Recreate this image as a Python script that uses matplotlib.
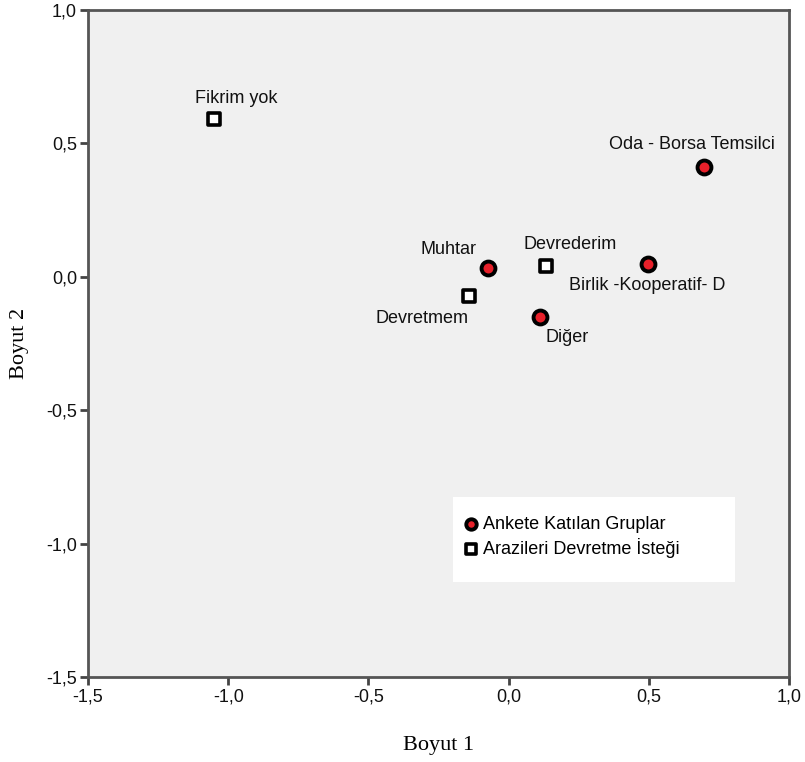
import matplotlib
matplotlib.use("Agg")
import matplotlib.pyplot as plt
from matplotlib.patches import Rectangle
from matplotlib.ticker import FuncFormatter

plt.rcParams["font.family"] = ["Liberation Sans", "DejaVu Sans"]

# Ankete Katılan Gruplar (daireler)
grup_adlari = ["Oda - Borsa Temsilci", "Muhtar", "Birlik -Kooperatif- D", "Diğer"]
grup_x = [0.697, -0.074, 0.497, 0.112]
grup_y = [0.412, 0.033, 0.048, -0.151]

# Arazileri Devretme İsteği (kareler)
istek_adlari = ["Fikrim yok", "Devrederim", "Devretmem"]
istek_x = [-1.051, 0.133, -0.141]
istek_y = [0.592, 0.040, -0.072]

ticks = [-1.5, -1.0, -0.5, 0.0, 0.5, 1.0]

# etiket kaydirmalari (piksel)
grup_ofs = [(-12, 22), (-39, 18), (-1, -22), (27, -20)]
istek_ofs = [(22, 20), (24, 22), (-47, -22)]

fig = plt.figure(figsize=(8.05, 7.62), dpi=100)
ax = fig.add_axes([88 / 805, 1 - 677 / 762, 701 / 805, 667 / 762])
ax.set_facecolor("#f0f0f0")

ax.scatter(grup_x, grup_y, s=100, c="#e8202a", edgecolors="black",
           linewidths=2.8, zorder=3, label="Ankete Katılan Gruplar")
ax.scatter(istek_x, istek_y, s=85, marker="s", c="white", edgecolors="black",
           linewidths=2.6, zorder=3, label="Arazileri Devretme İsteği")

px = 0.72
for ad, x, y, (dx, dy) in zip(grup_adlari, grup_x, grup_y, grup_ofs):
    ax.annotate(ad, (x, y), xytext=(dx * px, dy * px), textcoords="offset points",
                ha="center", va="center", fontsize=13, color="#111111")
for ad, x, y, (dx, dy) in zip(istek_adlari, istek_x, istek_y, istek_ofs):
    ax.annotate(ad, (x, y), xytext=(dx * px, dy * px), textcoords="offset points",
                ha="center", va="center", fontsize=13, color="#111111")

ax.set_xlim(-1.5, 1.0)
ax.set_ylim(-1.5, 1.0)
ax.set_xticks(ticks)
ax.set_yticks(ticks)
fmt = FuncFormatter(lambda v, p: f"{v:.1f}".replace(".", ","))
ax.xaxis.set_major_formatter(fmt)
ax.yaxis.set_major_formatter(fmt)
ax.tick_params(direction="out", length=6, width=2, color="#444444",
               labelsize=13, pad=2, labelcolor="#111111")
for s in ax.spines.values():
    s.set_color("#555555")
    s.set_linewidth(2)

ax.set_xlabel("Boyut 1", family="Liberation Serif", fontsize=16, labelpad=22)
ax.set_ylabel("Boyut 2", family="Liberation Serif", fontsize=16, labelpad=12)

# lejant kutusu
ax.add_patch(Rectangle((365 / 701, 95 / 667), 282 / 701, 85 / 667,
                       transform=ax.transAxes, facecolor="white",
                       edgecolor="none", zorder=4))
leg = ax.legend(loc="center left", bbox_to_anchor=(365 / 701, 140 / 667),
                frameon=False, fontsize=13, handletextpad=0.15,
                labelspacing=0.3, borderpad=0, handlelength=1.0,
                markerscale=0.75)
leg.set_zorder(5)

fig.savefig("out.png", dpi=100)
